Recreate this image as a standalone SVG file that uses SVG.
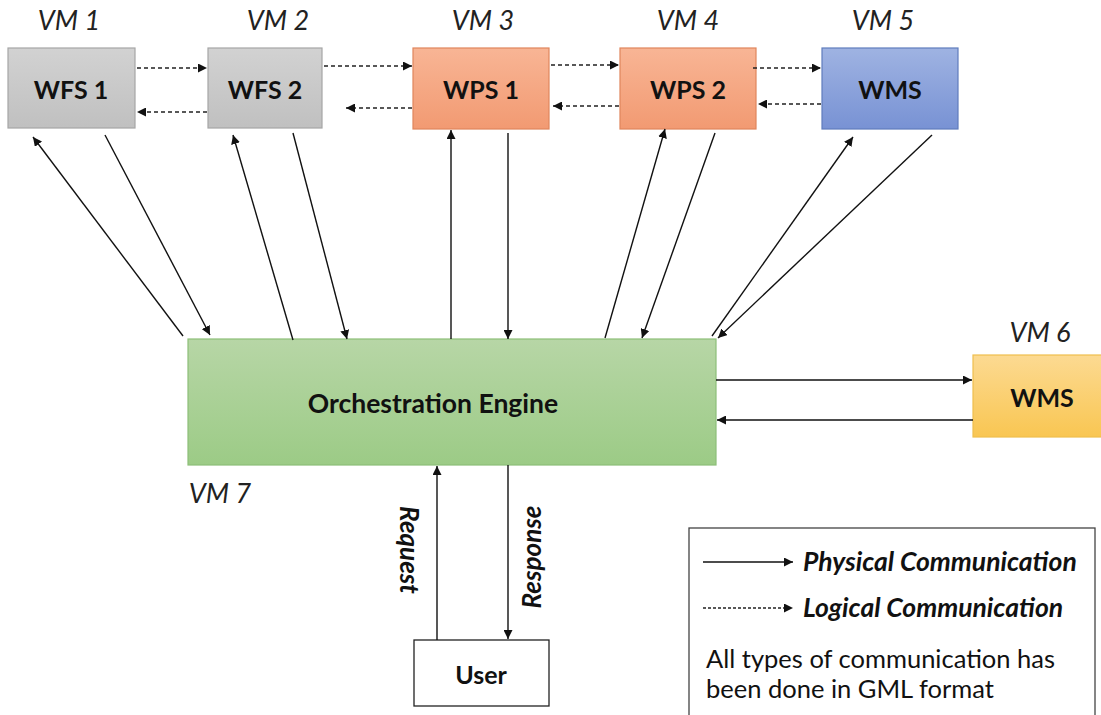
<svg xmlns="http://www.w3.org/2000/svg" width="1101" height="715" viewBox="0 0 1101 715">
<defs>
<style>
.vm{font-family:Lato,"Liberation Sans",sans-serif;font-style:italic;font-size:27px;fill:#222;text-anchor:middle}
.lbl{font-family:Lato,"Liberation Sans",sans-serif;font-weight:bold;font-size:25px;fill:#111;text-anchor:middle;dominant-baseline:central}
.ln{stroke:#111;stroke-width:1.4;fill:none;marker-end:url(#ah)}
.dash{stroke:#222;stroke-width:1.4;fill:none;stroke-dasharray:4 3;marker-end:url(#ah)}
.lg{font-family:Lato,"Liberation Sans",sans-serif;font-size:25.5px;fill:#111}
.lgb{font-family:Lato,"Liberation Sans",sans-serif;font-size:26.5px;font-weight:bold;font-style:italic;fill:#111}
.rq{font-family:Lato,"Liberation Sans",sans-serif;font-size:26px;font-weight:bold;font-style:italic;fill:#111;text-anchor:middle;dominant-baseline:central}
</style>
<marker id="ah" viewBox="0 0 10 10" refX="10" refY="5" markerWidth="9" markerHeight="9" markerUnits="userSpaceOnUse" orient="auto"><path d="M0,0 L10,5 L0,10 z" fill="#111"/></marker>
<linearGradient id="gGrey" x1="0" y1="0" x2="0" y2="1"><stop offset="0" stop-color="#d2d2d2"/><stop offset="1" stop-color="#c0c0c0"/></linearGradient>
<linearGradient id="gOr" x1="0" y1="0" x2="0" y2="1"><stop offset="0" stop-color="#f8b595"/><stop offset="1" stop-color="#f29a72"/></linearGradient>
<linearGradient id="gBl" x1="0" y1="0" x2="0" y2="1"><stop offset="0" stop-color="#9fb3e2"/><stop offset="1" stop-color="#7892d4"/></linearGradient>
<linearGradient id="gGr" x1="0" y1="0" x2="0" y2="1"><stop offset="0" stop-color="#b7d6a6"/><stop offset="1" stop-color="#9ccb86"/></linearGradient>
<linearGradient id="gYe" x1="0" y1="0" x2="0" y2="1"><stop offset="0" stop-color="#fcda92"/><stop offset="1" stop-color="#f9c652"/></linearGradient>
</defs>
<rect width="1101" height="715" fill="#fff"/>

<g id="wfs1">
<text class="vm" x="69" y="30">VM 1</text>
<rect x="8" y="48" width="127" height="80" fill="url(#gGrey)" stroke="#a6a6a6" stroke-width="1.2"/>
<text class="lbl" x="71" y="89">WFS 1</text>
</g>
<g id="wfs2">
<text class="vm" x="278" y="30">VM 2</text>
<rect x="208" y="48" width="114" height="80" fill="url(#gGrey)" stroke="#a6a6a6" stroke-width="1.2"/>
<text class="lbl" x="265" y="89">WFS 2</text>
</g>
<g id="wps1">
<text class="vm" x="483" y="30">VM 3</text>
<rect x="413" y="48" width="136" height="81" fill="url(#gOr)" stroke="#e0855c" stroke-width="1.2"/>
<text class="lbl" x="481" y="89">WPS 1</text>
</g>
<g id="wps2">
<text class="vm" x="688" y="30">VM 4</text>
<rect x="620" y="48" width="136" height="81" fill="url(#gOr)" stroke="#e0855c" stroke-width="1.2"/>
<text class="lbl" x="688" y="89">WPS 2</text>
</g>
<g id="wms5">
<text class="vm" x="883" y="30">VM 5</text>
<rect x="822" y="48" width="136" height="81" fill="url(#gBl)" stroke="#5f7cbd" stroke-width="1.2"/>
<text class="lbl" x="890" y="89">WMS</text>
</g>
<g id="engine">
<rect x="188" y="339" width="528" height="126" fill="url(#gGr)" stroke="#8dbf78" stroke-width="1.2"/>
<text class="lbl" x="433" y="403" style="font-size:26.5px">Orchestration Engine</text>
<text class="vm" x="220" y="503">VM 7</text>
</g>
<g id="wms6">
<text class="vm" x="1040" y="342">VM 6</text>
<rect x="973" y="355" width="130" height="82" fill="url(#gYe)" stroke="#efbf4e" stroke-width="1.2"/>
<text class="lbl" x="1042" y="397">WMS</text>
</g>
<g id="user">
<rect x="414" y="640" width="135" height="66" fill="#fff" stroke="#222" stroke-width="1.3"/>
<text class="lbl" x="481" y="674">User</text>
</g>

<g id="connectors">
<line class="dash" x1="137" y1="68" x2="207" y2="68"/>
<line class="dash" x1="207" y1="112" x2="137" y2="112"/>
<line class="dash" x1="324" y1="66" x2="412" y2="66"/>
<line class="dash" x1="412" y1="108" x2="346" y2="108"/>
<line class="dash" x1="551" y1="65" x2="619" y2="65"/>
<line class="dash" x1="619" y1="106" x2="553" y2="106"/>
<line class="dash" x1="753" y1="68" x2="821" y2="68"/>
<line class="dash" x1="821" y1="104" x2="758" y2="104"/>

<line class="ln" x1="183" y1="336" x2="33" y2="137"/>
<line class="ln" x1="105" y1="135" x2="210" y2="335"/>
<line class="ln" x1="293" y1="340" x2="233" y2="135"/>
<line class="ln" x1="293" y1="133" x2="347" y2="339"/>
<line class="ln" x1="451" y1="339" x2="451" y2="130"/>
<line class="ln" x1="508" y1="133" x2="508" y2="339"/>
<line class="ln" x1="605" y1="338" x2="665" y2="129"/>
<line class="ln" x1="715" y1="133" x2="642" y2="338"/>
<line class="ln" x1="712" y1="336" x2="853" y2="137"/>
<line class="ln" x1="932" y1="135" x2="718" y2="338"/>

<line class="ln" x1="716" y1="380" x2="972" y2="380"/>
<line class="ln" x1="973" y1="420" x2="717" y2="420"/>

<line class="ln" x1="437" y1="640" x2="437" y2="466"/>
<line class="ln" x1="508" y1="465" x2="508" y2="639"/>
</g>
<text class="rq" transform="translate(410,550) rotate(90)">Request</text>
<text class="rq" transform="translate(531,557) rotate(-90)">Response</text>

<g id="legend">
<rect x="689" y="528" width="406" height="200" fill="#fff" stroke="#444" stroke-width="1.3"/>
<line class="ln" x1="703" y1="562" x2="793" y2="562"/>
<line class="dash" x1="703" y1="608" x2="793" y2="608" style="stroke-dasharray:3 2"/>
<text class="lgb" x="803" y="571">Physical Communication</text>
<text class="lgb" x="803" y="617">Logical Communication</text>
<text class="lg" x="706" y="668">All types of communication has</text>
<text class="lg" x="706" y="698">been done in GML format</text>
</g>
</svg>
